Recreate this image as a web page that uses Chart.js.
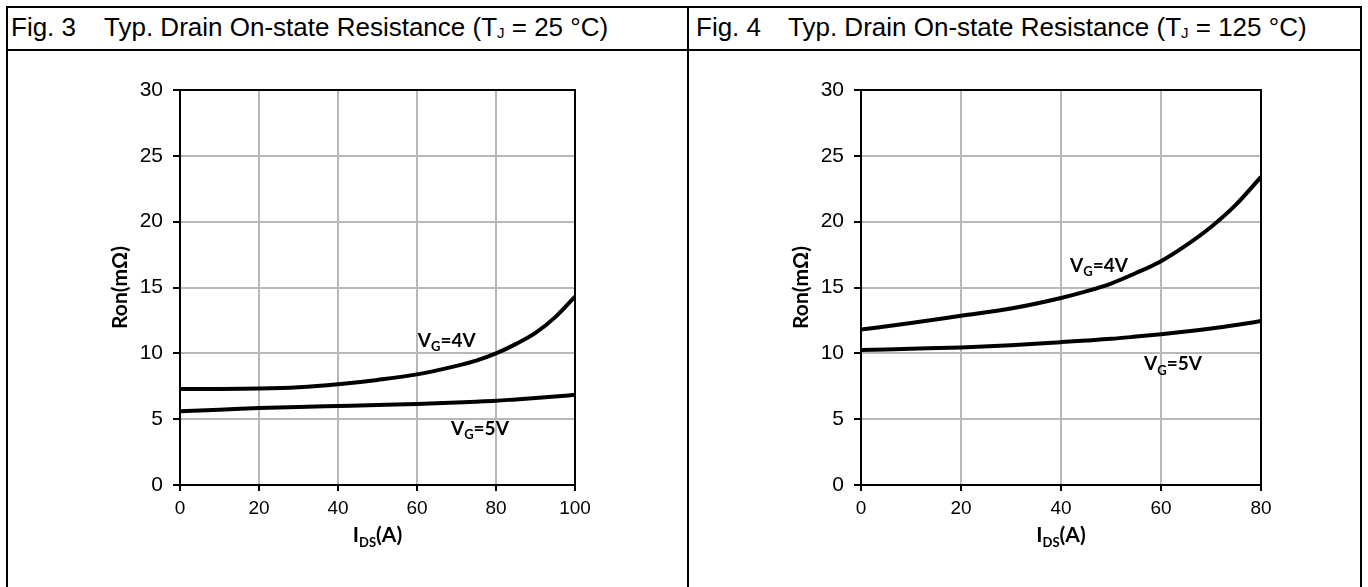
<!DOCTYPE html>
<html>
<head>
<meta charset="utf-8">
<title>Typ. Drain On-state Resistance</title>
<script src="https://cdn.jsdelivr.net/npm/chart.js@4.4.1/dist/chart.umd.min.js"></script>
<style>
  html, body { margin: 0; padding: 0; background: #fff; }
  body { width: 1368px; height: 587px; position: relative; overflow: hidden; font-family: "Liberation Sans", Arial, sans-serif; }
  .frame { position: absolute; left: 6px; top: 6px; width: 1356px; height: 600px; border: 2px solid #000; box-sizing: border-box; }
  .hline { position: absolute; left: 6px; top: 49px; width: 1356px; height: 2px; background: #000; }
  .vline { position: absolute; left: 687px; top: 6px; width: 2px; height: 600px; background: #000; }
  .head { position: absolute; top: 12px; font-size: 26px; color: #000; white-space: nowrap; line-height: 31px; }
  .head sub { font-size: 15px; vertical-align: -2px; line-height: 0; }
  .box { position: absolute; top: 52px; width: 678px; height: 530px; }
</style>
</head>
<body>
<div class="frame"></div>
<div class="hline"></div>
<div class="vline"></div>

<div class="head" style="left:11px">Fig. 3</div>
<div class="head" style="left:104px">Typ. Drain On-state Resistance (T<sub>J</sub> = 25 °C)</div>
<div class="head" style="left:696px">Fig. 4</div>
<div class="head" style="left:788px">Typ. Drain On-state Resistance (T<sub>J</sub> = 125 °C)</div>

<div class="box" style="left:8px"><canvas id="fig3" width="678" height="530"></canvas></div>
<div class="box" style="left:690px"><canvas id="fig4" width="678" height="530"></canvas></div>

<script>
// Values
const idsFig3 = [0, 10, 20, 30, 40, 50, 60, 70, 75, 80, 85, 90, 95, 100];
const ronFig3Vg4 = [7.3, 7.3, 7.32, 7.42, 7.65, 7.98, 8.4, 9.05, 9.45, 10.0, 10.7, 11.55, 12.75, 14.3];
const ronFig3Vg5 = [5.6, 5.72, 5.85, 5.93, 6.0, 6.07, 6.15, 6.27, 6.33, 6.4, 6.5, 6.6, 6.72, 6.85];

const idsFig4 = [0, 10, 20, 30, 40, 45, 50, 55, 60, 65, 70, 75, 80];
const ronFig4Vg4 = [11.8, 12.3, 12.85, 13.4, 14.2, 14.7, 15.3, 16.1, 17.0, 18.2, 19.6, 21.3, 23.4];
const ronFig4Vg5 = [10.25, 10.35, 10.45, 10.62, 10.85, 10.97, 11.1, 11.27, 11.45, 11.65, 11.88, 12.15, 12.45];

const seriesNames = ['VG=4V', 'VG=5V'];
const yMax = 30;
const yStep = 5;
const xStep = 20;

const LABEL_FONT = 'Lato, "Open Sans", sans-serif';

// draws main text with a subscript piece, left aligned on a baseline
function drawSub(ctx, x, y, main, sub, rest, size, ratio) {
  ctx.font = 'bold ' + size + 'px ' + LABEL_FONT;
  ctx.fillText(main, x, y);
  x += ctx.measureText(main).width;
  ctx.font = 'bold ' + Math.round(size * ratio) + 'px ' + LABEL_FONT;
  ctx.fillText(sub, x, y + size * 0.22);
  x += ctx.measureText(sub).width;
  ctx.font = 'bold ' + size + 'px ' + LABEL_FONT;
  ctx.fillText(rest, x, y);
}

function subWidth(ctx, main, sub, rest, size, ratio) {
  ctx.font = 'bold ' + size + 'px ' + LABEL_FONT;
  let w = ctx.measureText(main).width + ctx.measureText(rest).width;
  ctx.font = 'bold ' + Math.round(size * ratio) + 'px ' + LABEL_FONT;
  return w + ctx.measureText(sub).width;
}

const decor = {
  id: 'decor',
  beforeDatasetsDraw(chart) {
    const { ctx, chartArea: a } = chart;
    ctx.save();
    ctx.strokeStyle = '#000';
    ctx.lineWidth = 2;
    ctx.strokeRect(a.left, a.top, a.right - a.left, a.bottom - a.top);
    ctx.restore();
  },
  afterDraw(chart, args, opts) {
    const { ctx, chartArea: a, scales } = chart;
    ctx.save();
    ctx.fillStyle = '#000';
    ctx.textBaseline = 'alphabetic';
    ctx.textAlign = 'left';

    // y axis title
    ctx.save();
    ctx.translate(a.left - 53, (a.top + a.bottom) / 2);
    ctx.rotate(-Math.PI / 2);
    ctx.font = 'bold 21px ' + LABEL_FONT;
    ctx.textAlign = 'center';
    ctx.fillText('Ron(mΩ)', 0, 0);
    ctx.restore();

    // x axis title: I_DS(A)
    const w = subWidth(ctx, 'I', 'DS', '(A)', 21, 0.62);
    drawSub(ctx, (a.left + a.right) / 2 - w / 2, a.bottom + 57, 'I', 'DS', '(A)', 21, 0.62);

    // curve labels
    opts.labels.forEach(l => {
      const px = scales.x.getPixelForValue(l.x);
      const py = scales.y.getPixelForValue(l.y);
      drawSub(ctx, px, py, 'V', 'G', l.text, 19, 0.68);
    });
    ctx.restore();
  }
};

function makeChart(id, ids, vg4, vg5, xMax, leftW, rightPad, labels) {
  const ctx = document.getElementById(id).getContext('2d');
  const ds = (name, ys) => ({
    label: name,
    data: ids.map((x, i) => ({ x: x, y: ys[i] })),
    borderColor: '#000',
    borderWidth: 4,
    pointRadius: 0,
    fill: false,
    showLine: true,
    cubicInterpolationMode: 'monotone'
  });
  return new Chart(ctx, {
    type: 'scatter',
    data: { datasets: [ds(seriesNames[0], vg4), ds(seriesNames[1], vg5)] },
    options: {
      responsive: false,
      animation: false,
      events: [],
      layout: { padding: { left: 0, top: 38, right: rightPad, bottom: 0 } },
      plugins: {
        legend: { display: false },
        tooltip: { enabled: false },
        decor: { labels: labels }
      },
      scales: {
        x: {
          type: 'linear',
          min: 0, max: xMax,
          ticks: { stepSize: xStep, color: '#000', padding: 6, font: { family: '"Liberation Sans", Arial, sans-serif', size: 19 } },
          grid: { color: '#b8b8b8', lineWidth: 2, tickColor: '#000', tickLength: 6 },
          border: { color: '#000', width: 2 },
          afterFit: s => { s.height = 97; s.paddingLeft = 0; s.paddingRight = 0; }
        },
        y: {
          min: 0, max: yMax,
          ticks: { stepSize: yStep, color: '#000', padding: 10, font: { family: '"Liberation Sans", Arial, sans-serif', size: 21 } },
          grid: { color: '#b8b8b8', lineWidth: 2, tickColor: '#000', tickLength: 7 },
          border: { color: '#000', width: 2 },
          afterFit: s => { s.width = leftW; s.paddingTop = 0; s.paddingBottom = 0; }
        }
      }
    },
    plugins: [decor]
  });
}

makeChart('fig3', idsFig3, ronFig3Vg4, ronFig3Vg5, 100, 172, 111, [
  { x: 60.2, y: 10.5, text: '=4V' },
  { x: 68.6, y: 3.8, text: '=5V' }
]);
makeChart('fig4', idsFig4, ronFig4Vg4, ronFig4Vg5, 80, 171, 107, [
  { x: 41.8, y: 16.2, text: '=4V' },
  { x: 56.6, y: 8.7, text: '=5V' }
]);
</script>
</body>
</html>
